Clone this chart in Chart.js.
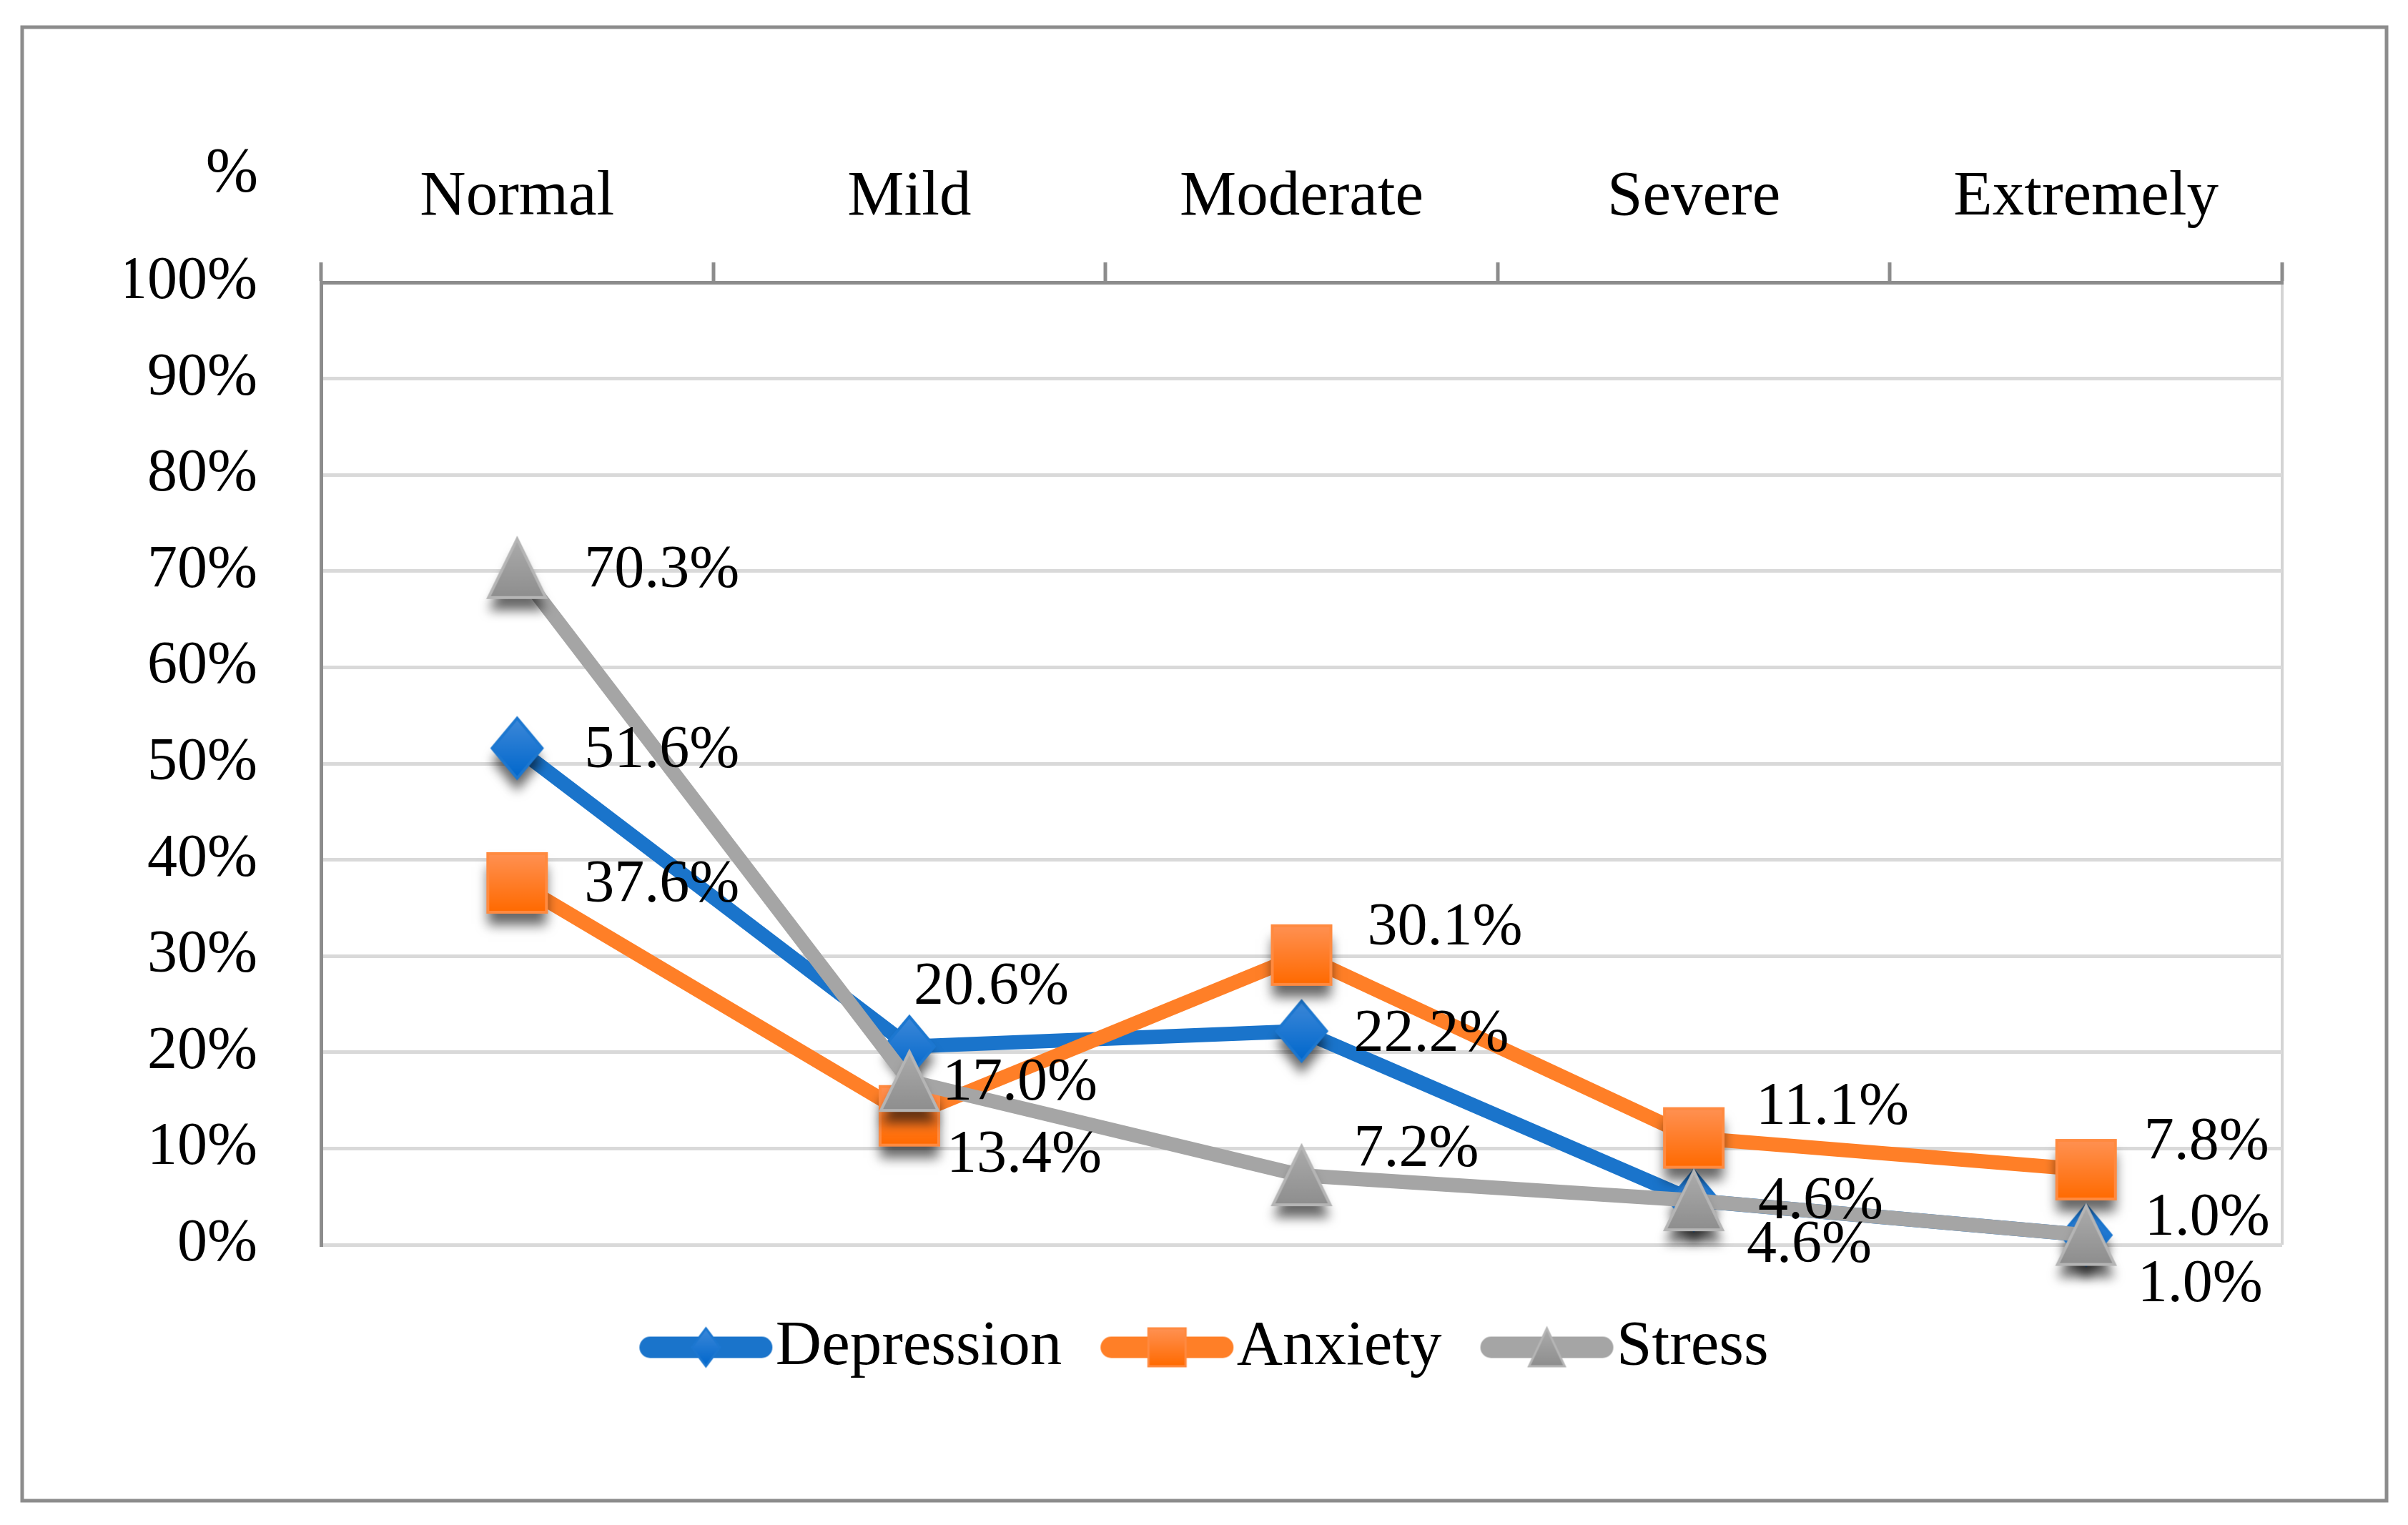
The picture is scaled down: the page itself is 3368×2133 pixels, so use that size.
<!DOCTYPE html>
<html>
<head>
<meta charset="utf-8">
<script src="https://cdn.jsdelivr.net/npm/chart.js@4.4.1/dist/chart.umd.min.js"></script>
<style>
html,body{margin:0;padding:0;background:#ffffff;}
canvas{display:block;}
</style>
</head>
<body>
<canvas id="c" width="3368" height="2133"></canvas>
<script>
// ---------- data ----------
const categories = ['Normal', 'Mild', 'Moderate', 'Severe', 'Extremely'];
const depression = [51.6, 20.6, 22.2, 4.6, 1.0];
const anxiety    = [37.6, 13.4, 30.1, 11.1, 7.8];
const stress     = [70.3, 17.0, 7.2, 4.6, 1.0];
const seriesNames = ['Depression', 'Anxiety', 'Stress'];
const yTickLabels = ['0%', '10%', '20%', '30%', '40%', '50%', '60%', '70%', '80%', '90%', '100%'];
const yAxisTitle = '%';

// ---------- style ----------
const FONT = "'Liberation Serif', 'Times New Roman', serif";
const lineColors = ['#1A74CB', '#FF7F27', '#A5A5A5'];
const markerStyles = [
  {shape: 'diamond', w: 70, h: 84, top: '#3D88D8', bottom: '#0067CC', stroke: '#1C77D0', bw: 4},
  {shape: 'square',  w: 82, h: 82, top: '#FF9152', bottom: '#FF6A00', stroke: '#FF8A40', bw: 4},
  {shape: 'triangle',w: 80, h: 82, top: '#ABABAB', bottom: '#8E8E8E', stroke: '#B5B5B5', bw: 4}
];
const legendMarkerSizes = [[40, 53], [52, 53], [50, 53]];
// label placement relative to each point: [dx (left edge), dy (middle)]
const labelOffsets = [
  [[94, 4], [6, -82], [73, 6], [90, 3], [82, -23]],
  [[94, 4], [52, 56], [92, -37], [87, -42], [81, -37]],
  [[94, 4], [46, 4], [73, -35], [74, 64], [72, 70]]
];

function shapePath(g, shape, cx, cy, w, h) {
  g.beginPath();
  if (shape === 'diamond') {
    g.moveTo(cx, cy - h / 2); g.lineTo(cx + w / 2, cy); g.lineTo(cx, cy + h / 2); g.lineTo(cx - w / 2, cy);
  } else if (shape === 'square') {
    g.rect(cx - w / 2, cy - h / 2, w, h);
  } else {
    g.moveTo(cx, cy - h / 2); g.lineTo(cx + w / 2, cy + h / 2); g.lineTo(cx - w / 2, cy + h / 2);
  }
  g.closePath();
}
function paintMarker(g, st, cx, cy, w, h, shadow) {
  if (shadow) {
    g.save();
    g.shadowColor = 'rgba(0,0,0,0.6)';
    g.shadowBlur = 16;
    g.shadowOffsetY = 18;
    shapePath(g, st.shape, cx, cy, w, h);
    g.fillStyle = st.bottom;
    g.fill();
    g.restore();
  }
  const grad = g.createLinearGradient(0, cy - h / 2, 0, cy + h / 2);
  grad.addColorStop(0, st.top);
  grad.addColorStop(1, st.bottom);
  shapePath(g, st.shape, cx, cy, w, h);
  g.fillStyle = grad;
  g.fill();
  g.lineWidth = st.bw;
  g.strokeStyle = st.stroke;
  g.lineJoin = 'miter';
  g.stroke();
}
function makeMarker(st) {
  const pad = 50;
  const c = document.createElement('canvas');
  c.width = st.w + 2 * pad; c.height = st.h + 2 * pad;
  const g = c.getContext('2d');
  paintMarker(g, st, c.width / 2, c.height / 2, st.w, st.h, true);
  return c;
}
function makeLegendImg(color, st, size) {
  const W = 230, H = 70;
  const c = document.createElement('canvas');
  c.width = W; c.height = H;
  const g = c.getContext('2d');
  g.lineCap = 'round';
  g.lineWidth = 30;
  g.strokeStyle = color;
  g.beginPath();
  g.moveTo(42 + 15, H / 2); g.lineTo(228 - 15, H / 2);
  g.stroke();
  paintMarker(g, Object.assign({}, st, {bw: 3}), 135, H / 2, size[0], size[1], false);
  return c;
}
const pointImgs = markerStyles.map(makeMarker);
const legendImgs = markerStyles.map((st, i) => makeLegendImg(lineColors[i], st, legendMarkerSizes[i]));

const seriesData = [depression, anxiety, stress];
const datasets = seriesData.map((d, i) => ({
  label: seriesNames[i],
  data: d,
  borderColor: lineColors[i],
  backgroundColor: lineColors[i],
  borderWidth: 20,
  tension: 0,
  pointStyle: pointImgs[i],
  pointRadius: 40,
  pointHoverRadius: 40,
  clip: false,
  order: 3 - i
}));

const framePlugin = {
  id: 'frame',
  beforeDraw(chart) {
    const g = chart.ctx;
    g.save();
    g.fillStyle = '#ffffff';
    g.fillRect(0, 0, chart.width, chart.height);
    g.strokeStyle = '#8C8C8C';
    g.lineWidth = 5;
    g.strokeRect(31, 38, 3307, 2061);
    g.restore();
  },
  afterDraw(chart) {
    const g = chart.ctx;
    g.save();
    g.fillStyle = '#000';
    g.font = '88px ' + FONT;
    g.textAlign = 'right';
    g.textBaseline = 'middle';
    g.fillText(yAxisTitle, 361, 244);
    g.restore();
  }
};

const valueLabelPlugin = {
  id: 'valueLabels',
  afterDatasetsDraw(chart) {
    const g = chart.ctx;
    g.save();
    g.fillStyle = '#000';
    g.font = '84px ' + FONT;
    g.textAlign = 'left';
    g.textBaseline = 'middle';
    chart.data.datasets.forEach((ds, i) => {
      const meta = chart.getDatasetMeta(i);
      meta.data.forEach((pt, j) => {
        const off = labelOffsets[i][j];
        g.fillText(ds.data[j].toFixed(1) + '%', pt.x + off[0], pt.y + off[1]);
      });
    });
    g.restore();
  }
};

Chart.defaults.font.family = FONT;
Chart.defaults.color = '#000';

new Chart(document.getElementById('c'), {
  type: 'line',
  data: {labels: categories, datasets: datasets},
  options: {
    responsive: false,
    devicePixelRatio: 1,
    animation: false,
    events: [],
    layout: {padding: {left: 176, right: 176, top: 0, bottom: 194}},
    scales: {
      x: {
        type: 'category',
        position: 'top',
        offset: true,
        grid: {
          offset: true,
          drawOnChartArea: true,
          color: (c) => (c.type === 'scale' ? '#D4D4D4' : 'rgba(0,0,0,0)'),
          lineWidth: 4,
          tickColor: '#8C8C8C',
          tickWidth: 5,
          tickLength: 28,
          drawTicks: true
        },
        border: {display: true, color: '#8C8C8C', width: 5},
        ticks: {font: {size: 89}, color: '#000', padding: 37, maxRotation: 0, autoSkip: false},
        afterFit: (s) => { s.height = 395; }
      },
      xb: {
        type: 'category',
        position: 'bottom',
        display: true,
        grid: {display: false},
        border: {display: false},
        ticks: {display: false},
        afterFit: (s) => { s.height = 45; }
      },
      y: {
        position: 'left',
        min: 0,
        max: 100,
        ticks: {
          stepSize: 10,
          padding: 89,
          font: {size: 84},
          color: '#000',
          callback: (v, i) => yTickLabels[i]
        },
        grid: {color: '#D9D9D9', lineWidth: 5, drawTicks: false},
        border: {display: true, color: '#8C8C8C', width: 5},
        afterFit: (s) => { s.width = 273; }
      }
    },
    plugins: {
      tooltip: {enabled: false},
      title: {display: false},
      legend: {
        display: true,
        position: 'bottom',
        align: 'center',
        labels: {
          usePointStyle: true,
          pointStyleWidth: 146,
          boxHeight: 89,
          padding: 54,
          font: {size: 89},
          color: '#000',
          generateLabels: (chart) => chart.data.datasets.map((ds, i) => ({
            text: ds.label,
            fillStyle: ds.borderColor,
            strokeStyle: ds.borderColor,
            lineWidth: 0,
            pointStyle: legendImgs[i],
            rotation: 0,
            hidden: false,
            datasetIndex: i,
            fontColor: '#000'
          }))
        }
      }
    }
  },
  plugins: [framePlugin, valueLabelPlugin]
});
</script>
</body>
</html>
